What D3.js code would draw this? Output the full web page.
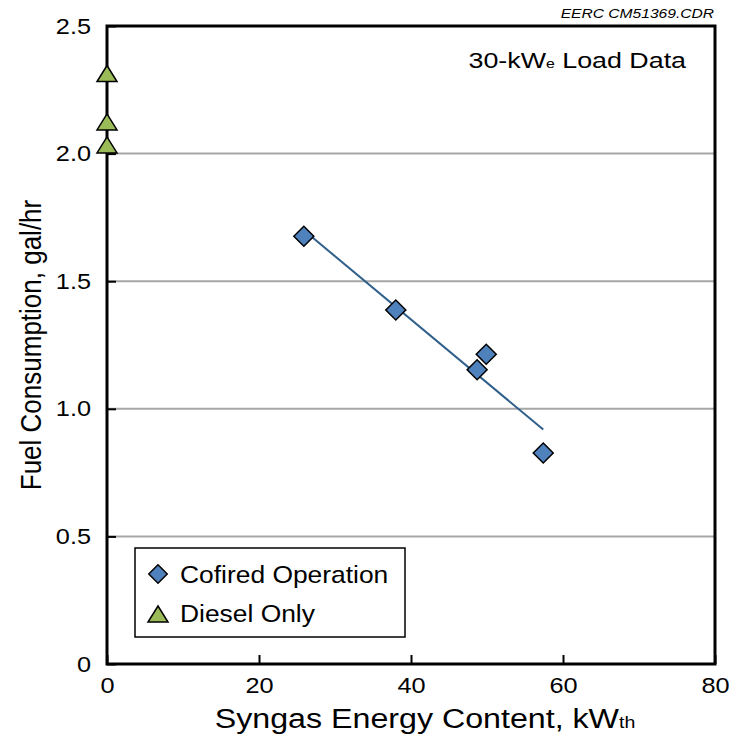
<!DOCTYPE html>
<html>
<head>
<meta charset="utf-8">
<script src="https://cdn.jsdelivr.net/npm/d3@7"></script>
<style>
  body { margin: 0; background: #fff; }
  text { font-family: "Liberation Sans", Arial, sans-serif; fill: #000; }
</style>
</head>
<body>
<div id="chart"></div>
<script>
// data
const cofiredX = [25.9, 38.0, 48.7, 49.9, 57.4];
const cofiredY = [1.676, 1.387, 1.153, 1.214, 0.827];
const dieselX = [0, 0, 0];
const dieselY = [2.31, 2.12, 2.03];
const xTicks = [0, 20, 40, 60, 80];
const yTicks = [0, 0.5, 1.0, 1.5, 2.0, 2.5];

const width = 736, height = 745;
const margin = {top: 26, right: 21, bottom: 81, left: 107};
const w = width - margin.left - margin.right;
const h = height - margin.top - margin.bottom;
const FONT = "Liberation Sans, Arial, sans-serif";

// the source lettering is a bit stretched sideways
function stretchedText(parent, px, py, sx) {
  return parent.append("text")
    .attr("transform", "translate(" + px + "," + py + ") scale(" + sx + ",1)");
}

const svg = d3.select("#chart").append("svg")
  .attr("width", width)
  .attr("height", height);

const g = svg.append("g")
  .attr("transform", "translate(" + margin.left + "," + margin.top + ")");

const x = d3.scaleLinear().domain([0, 80]).range([0, w]);
const y = d3.scaleLinear().domain([0, 2.5]).range([h, 0]);

// gridlines
g.append("g")
  .selectAll("line")
  .data(yTicks.filter(d => d > 0 && d < 2.5))
  .enter().append("line")
  .attr("x1", 0).attr("x2", w)
  .attr("y1", d => y(d)).attr("y2", d => y(d))
  .style("stroke", "#a6a6a6")
  .style("stroke-width", 2);

// y axis, ticks inward
const yAxis = g.append("g")
  .call(d3.axisLeft(y).tickValues(yTicks).tickSizeInner(-9).tickSizeOuter(0)
    .tickFormat(d => d === 0 ? "0" : d3.format(".1f")(d)));
yAxis.select(".domain").remove();
yAxis.selectAll("line").style("stroke", "#000").style("stroke-width", 2);
yAxis.selectAll("text")
  .attr("x", -16 / 1.15)
  .attr("transform", "scale(1.15,1)")
  .style("font-size", "22px")
  .style("font-family", FONT);

// x axis, ticks inward
const xAxis = g.append("g")
  .attr("transform", "translate(0," + h + ")")
  .call(d3.axisBottom(x).tickValues(xTicks).tickSizeInner(-9).tickSizeOuter(0));
xAxis.select(".domain").remove();
xAxis.selectAll("line").style("stroke", "#000").style("stroke-width", 2);
xAxis.selectAll("text")
  .attr("y", 13)
  .attr("dy", "0.71em")
  .attr("transform", "scale(1.15,1)")
  .style("font-size", "22px")
  .style("font-family", FONT);

// frame
g.append("rect")
  .attr("x", 0).attr("y", 0)
  .attr("width", w).attr("height", h)
  .style("fill", "none")
  .style("stroke", "#000")
  .style("stroke-width", 3);

// least squares trend line over the cofired points
const mx = d3.mean(cofiredX), my = d3.mean(cofiredY);
const slope = d3.sum(cofiredX, (d, i) => (d - mx) * (cofiredY[i] - my)) /
  d3.sum(cofiredX, d => (d - mx) * (d - mx));
const x0 = d3.min(cofiredX), x1 = d3.max(cofiredX);
g.append("line")
  .attr("x1", x(x0)).attr("y1", y(my + slope * (x0 - mx)))
  .attr("x2", x(x1)).attr("y2", y(my + slope * (x1 - mx)))
  .style("stroke", "#2f5f8a")
  .style("stroke-width", 2);

const diamond = d3.symbol().type(d3.symbolSquare).size(200);
const triangle = "M0,-9L10,7L-10,7Z";

// cofired points
g.selectAll(".cof")
  .data(cofiredX.map((d, i) => [d, cofiredY[i]]))
  .enter().append("path")
  .attr("d", diamond)
  .attr("transform", d => "translate(" + x(d[0]) + "," + y(d[1]) + ") rotate(45)")
  .style("fill", "#4f81bd")
  .style("stroke", "#000")
  .style("stroke-width", 1.5);

// diesel only points
g.selectAll(".dsl")
  .data(dieselX.map((d, i) => [d, dieselY[i]]))
  .enter().append("path")
  .attr("d", triangle)
  .attr("transform", d => "translate(" + x(d[0]) + "," + y(d[1]) + ")")
  .style("fill", "#9bbb59")
  .style("stroke", "#000")
  .style("stroke-width", 1.5);

// legend
const leg = svg.append("g").attr("transform", "translate(135,548)");
leg.append("rect")
  .attr("width", 270).attr("height", 89)
  .style("fill", "#fff")
  .style("stroke", "#000")
  .style("stroke-width", 1.5);
leg.append("path")
  .attr("d", d3.symbol().type(d3.symbolSquare).size(170))
  .attr("transform", "translate(23,26) rotate(45)")
  .style("fill", "#4f81bd").style("stroke", "#000").style("stroke-width", 1.5);
stretchedText(leg, 45, 35, 1.1)
  .style("font-size", "24px").text("Cofired Operation");
leg.append("path")
  .attr("d", triangle)
  .attr("transform", "translate(23,67)")
  .style("fill", "#9bbb59").style("stroke", "#000").style("stroke-width", 1.5);
stretchedText(leg, 45, 74, 1.1)
  .style("font-size", "24px").text("Diesel Only");

// annotations
const t1 = stretchedText(svg, 686, 68, 1.22)
  .attr("text-anchor", "end")
  .style("font-size", "22px");
t1.append("tspan").text("30-kW");
t1.append("tspan").style("font-size", "13px").text("e");
t1.append("tspan").text(" Load Data");

stretchedText(svg, 714, 18, 1.2)
  .attr("text-anchor", "end")
  .style("font-size", "13px")
  .style("font-style", "italic")
  .text("EERC CM51369.CDR");

// axis titles
const xt = stretchedText(svg, 425, 728, 1.15)
  .attr("text-anchor", "middle")
  .style("font-size", "28px");
xt.append("tspan").text("Syngas Energy Content, kW");
xt.append("tspan").style("font-size", "17px").text("th");

svg.append("text")
  .attr("transform", "translate(41,345) rotate(-90) scale(1,1.1)")
  .attr("text-anchor", "middle")
  .style("font-size", "26px")
  .text("Fuel Consumption, gal/hr");
</script>
</body>
</html>
